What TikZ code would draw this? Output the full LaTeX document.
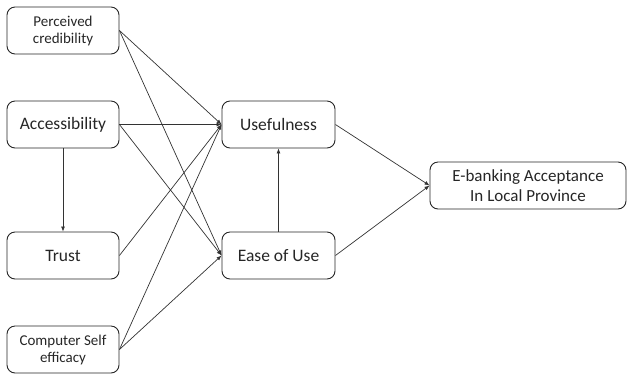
\documentclass[tikz,border=0pt]{standalone}
\usepackage{fontspec}
\setmainfont{Carlito}
\usetikzlibrary{arrows.meta}
\begin{document}
\begin{tikzpicture}[x=1pt,y=-1pt,
  box/.style={draw=black!85, line width=0.9pt, rounded corners=8pt, minimum height=47pt, align=center, inner sep=0pt, text=black!85},
  leftbox/.style={box, minimum width=112pt},
  midbox/.style={box, minimum width=113pt},
  link/.style={draw=black!80, line width=0.7pt, -{Latex[length=5pt,width=4pt]}}]
\useasboundingbox (0,0) rectangle (627,376);
\node[leftbox, font=\fontsize{15}{17}\selectfont] (pc) at (63,30.5) {Perceived\\credibility};
\node[leftbox, font=\fontsize{17.5}{20}\selectfont] (acc) at (63,124.5) {Accessibility};
\node[leftbox, font=\fontsize{17.5}{20}\selectfont] (trust) at (63,255.5) {Trust};
\node[leftbox, font=\fontsize{15}{17}\selectfont] (cse) at (63,349.5) {Computer Self\\efficacy};
\node[midbox, font=\fontsize{17.5}{20}\selectfont] (use) at (278.5,124.5) {Usefulness};
\node[midbox, font=\fontsize{17.5}{20}\selectfont] (ease) at (278.5,255.5) {Ease of Use};
\node[box, minimum width=196pt, font=\fontsize{17}{20}\selectfont] (eb) at (528,185.5) {E-banking Acceptance\\In Local Province};
\draw[link] (pc.east) -- (use.west);
\draw[link] (pc.east) -- (ease.west);
\draw[link] (acc.east) -- (use.west);
\draw[link] (acc.east) -- (ease.west);
\draw[link] (acc.south) -- (trust.north);
\draw[link] (trust.east) -- (use.west);
\draw[link] (cse.east) -- (use.west);
\draw[link] (cse.east) -- (ease.west);
\draw[link] (ease.north) -- (use.south);
\draw[link] (use.east) -- (eb.west);
\draw[link] (ease.east) -- (eb.west);
\end{tikzpicture}
\end{document}
